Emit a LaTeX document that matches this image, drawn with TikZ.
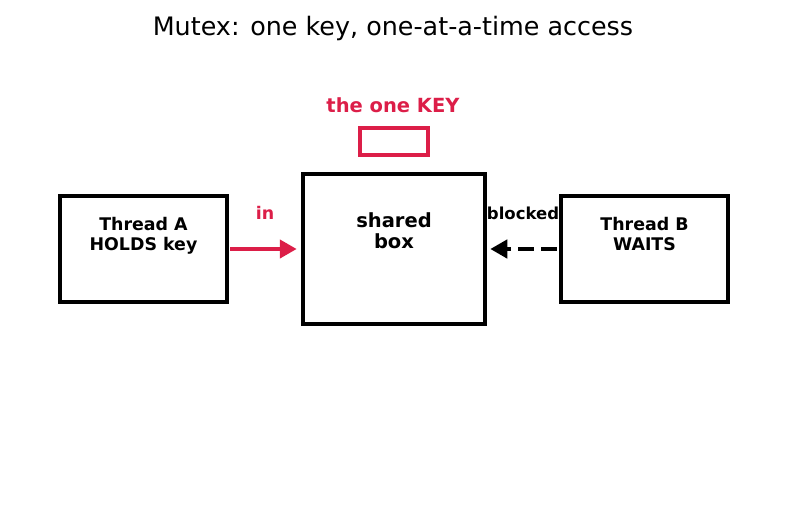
\documentclass[tikz,border=0pt]{standalone}
\usepackage{fontspec}
\setmainfont{DejaVu Sans}
\usetikzlibrary{arrows.meta}
\definecolor{keyred}{RGB}{220,30,72}
\tikzset{
  box/.style={draw=black, line width=4.5pt, minimum width=#1, inner sep=0pt},
  lbl/.style={font=\fontsize{17.4}{20}\selectfont\bfseries, align=center, inner sep=0pt},
  biglbl/.style={font=\fontsize{19.5}{21}\selectfont\bfseries, align=center, inner sep=0pt},
}
\begin{document}
\begin{tikzpicture}[x=1pt,y=-1pt]
\useasboundingbox (0,0) rectangle (787,512);
\node[font=\fontsize{25.4}{30}\selectfont] (title) at (393,28) {Mutex: one key, one-at-a-time access};
% boxes
\node[box=167pt, minimum height=106pt] (a) at (143.5,249) {};
\node[box=182pt, minimum height=150pt] (s) at (394,249) {};
\node[box=167pt, minimum height=106pt] (b) at (644.5,249) {};
\node[draw=keyred, line width=4.5pt, minimum width=68pt, minimum height=27pt, inner sep=0pt] (key) at (394,141.5) {};
\node[biglbl, text=keyred] (keylbl) at (393,105) {the one KEY};
% labels
\node[lbl, anchor=north] (alab) at ([yshift=-23pt]a.north) {Thread A\\HOLDS key};
\node[biglbl, anchor=north] (slab) at ([yshift=-41pt]s.north) {shared\\box};
\node[lbl, anchor=north] (blab) at ([yshift=-23pt]b.north) {Thread B\\WAITS};
% connectors
\draw[keyred, line width=4.5pt, shorten <=1pt, shorten >=4pt, -{Triangle[length=17pt,width=18pt]}] (a.east) -- node[lbl, text=keyred, above=27pt] (inlbl) {in} (s.west);
\draw[black, line width=4.5pt, dash pattern=on 16pt off 7pt, shorten <=2pt, shorten >=3pt, -{Triangle[length=17pt,width=18pt]}] (b.west) -- node[font=\fontsize{16.5}{20}\selectfont\bfseries, inner sep=0pt, above=27pt] (blkl) {blocked} (s.east);
\end{tikzpicture}
\end{document}
